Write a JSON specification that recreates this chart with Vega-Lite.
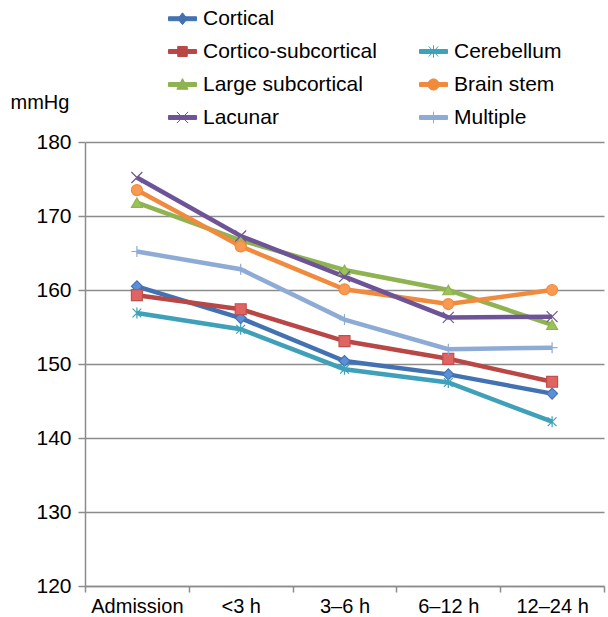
{
  "$schema": "https://vega.github.io/schema/vega-lite/v6.json",
  "autosize": {"type": "none"},
  "width": 519,
  "height": 444,
  "padding": {"left": 85, "top": 142, "right": 4, "bottom": 31},
  "background": "white",
  "config": {
    "view": {"stroke": null},
    "font": "Liberation Sans"
  },
  "data": {
    "values": [
      {"series": "Cortical", "time": "Admission", "value": 160.5},
      {"series": "Cortical", "time": "<3 h", "value": 156.2},
      {"series": "Cortical", "time": "3–6 h", "value": 150.4},
      {"series": "Cortical", "time": "6–12 h", "value": 148.6},
      {"series": "Cortical", "time": "12–24 h", "value": 146.0},
      {"series": "Cortico-subcortical", "time": "Admission", "value": 159.3},
      {"series": "Cortico-subcortical", "time": "<3 h", "value": 157.4},
      {"series": "Cortico-subcortical", "time": "3–6 h", "value": 153.1},
      {"series": "Cortico-subcortical", "time": "6–12 h", "value": 150.7},
      {"series": "Cortico-subcortical", "time": "12–24 h", "value": 147.6},
      {"series": "Cerebellum", "time": "Admission", "value": 156.9},
      {"series": "Cerebellum", "time": "<3 h", "value": 154.7},
      {"series": "Cerebellum", "time": "3–6 h", "value": 149.3},
      {"series": "Cerebellum", "time": "6–12 h", "value": 147.5},
      {"series": "Cerebellum", "time": "12–24 h", "value": 142.2},
      {"series": "Large subcortical", "time": "Admission", "value": 171.8},
      {"series": "Large subcortical", "time": "<3 h", "value": 166.7},
      {"series": "Large subcortical", "time": "3–6 h", "value": 162.7},
      {"series": "Large subcortical", "time": "6–12 h", "value": 160.0},
      {"series": "Large subcortical", "time": "12–24 h", "value": 155.3},
      {"series": "Brain stem", "time": "Admission", "value": 173.5},
      {"series": "Brain stem", "time": "<3 h", "value": 165.9},
      {"series": "Brain stem", "time": "3–6 h", "value": 160.1},
      {"series": "Brain stem", "time": "6–12 h", "value": 158.1},
      {"series": "Brain stem", "time": "12–24 h", "value": 160.0},
      {"series": "Lacunar", "time": "Admission", "value": 175.2},
      {"series": "Lacunar", "time": "<3 h", "value": 167.3},
      {"series": "Lacunar", "time": "3–6 h", "value": 161.8},
      {"series": "Lacunar", "time": "6–12 h", "value": 156.3},
      {"series": "Lacunar", "time": "12–24 h", "value": 156.4},
      {"series": "Multiple", "time": "Admission", "value": 165.2},
      {"series": "Multiple", "time": "<3 h", "value": 162.8},
      {"series": "Multiple", "time": "3–6 h", "value": 156.0},
      {"series": "Multiple", "time": "6–12 h", "value": 152.0},
      {"series": "Multiple", "time": "12–24 h", "value": 152.2}
    ]
  },
  "encoding": {
    "x": {
      "field": "time",
      "type": "nominal",
      "sort": ["Admission", "<3 h", "3–6 h", "6–12 h", "12–24 h"],
      "scale": {"paddingInner": 0, "paddingOuter": 0},
      "axis": {
        "title": null,
        "labelAngle": 0,
        "labelFontSize": 20,
        "labelColor": "#000000",
        "labelPadding": 4,
        "domainColor": "#8c8c8c",
        "domainWidth": 1.5,
        "tickColor": "#8c8c8c",
        "tickWidth": 1.5,
        "tickSize": 6,
        "tickBand": "extent",
        "grid": false
      }
    },
    "y": {
      "field": "value",
      "type": "quantitative",
      "scale": {"domain": [120, 180], "nice": false, "zero": false},
      "axis": {
        "title": "mmHg",
        "titleAngle": 0,
        "titleAlign": "left",
        "titleBaseline": "alphabetic",
        "titleX": -75,
        "titleY": -34,
        "titleFontSize": 20,
        "titleFontWeight": "normal",
        "titleColor": "#000000",
        "values": [120, 130, 140, 150, 160, 170, 180],
        "labelFontSize": 21,
        "labelColor": "#000000",
        "labelPadding": 7,
        "domainColor": "#8c8c8c",
        "domainWidth": 1.5,
        "tickColor": "#8c8c8c",
        "tickWidth": 1.5,
        "tickSize": 7,
        "grid": true,
        "gridColor": "#8c8c8c",
        "gridWidth": 1.5,
        "gridOpacity": 1
      }
    }
  },
  "layer": [
    {
      "mark": {"type": "line", "strokeWidth": 4.5},
      "encoding": {
        "color": {
          "field": "series",
          "type": "nominal",
          "scale": {
            "domain": ["Cortical", "Cortico-subcortical", "Large subcortical", "Lacunar", " ", "Cerebellum", "Brain stem", "Multiple"],
            "range": ["#4372B3", "#B84745", "#8FB350", "#6E5497", "transparent", "#3FA0B9", "#F08A3C", "#8EABD6"]
          },
          "legend": {
            "orient": "none",
            "legendX": 83,
            "legendY": -138,
            "title": null,
            "columns": 2,
            "columnPadding": 40,
            "rowPadding": 8,
            "padding": 0,
            "symbolSize": 784,
            "symbolStrokeWidth": 1,
            "labelFontSize": 21,
            "labelColor": "#000000",
            "labelOffset": 6,
            "labelLimit": 300,
            "encode": {
              "symbols": {
                "update": {
                  "shape": {"signal": "({'Cortical': 'M-1,-0.14H1V0.14H-1Z M0,-0.42L0.34,0L0,0.42L-0.34,0Z', ' ': 'M0,0', 'Cortico-subcortical': 'M-1,-0.14H1V0.14H-1Z M-0.34,-0.36H0.34V0.36H-0.34Z', 'Cerebellum': 'M-1,-0.14H1V0.14H-1Z M-0.34,-0.36L0.34,0.36M-0.34,0.36L0.34,-0.36M0,-0.44V0.44', 'Large subcortical': 'M-1,-0.14H1V0.14H-1Z M0,-0.42L0.4,0.34H-0.4Z', 'Brain stem': 'M-1,-0.14H1V0.14H-1Z M0.4,0A0.4,0.4,0,1,1,-0.4,0A0.4,0.4,0,1,1,0.4,0Z', 'Lacunar': 'M-1,-0.14H1V0.14H-1Z M-0.4,-0.4L0.4,0.4M-0.4,0.4L0.4,-0.4', 'Multiple': 'M-1,-0.14H1V0.14H-1Z M0,-0.42V0.42'})[datum.value]"},
                  "fill": {"scale": "color", "field": "value"},
                  "stroke": {"scale": "color", "field": "value"},
                  "strokeWidth": {"value": 1},
                  "opacity": {"value": 1}
                }
              }
            }
          }
        }
      }
    },
    {
      "mark": {"type": "point", "filled": true, "opacity": 1, "strokeWidth": 1.2, "size": 120},
      "encoding": {
        "shape": {
          "field": "series",
          "type": "nominal",
          "scale": {
            "domain": ["Cortical", "Cortico-subcortical", "Cerebellum", "Large subcortical", "Brain stem", "Lacunar", "Multiple"],
            "range": [
              "diamond",
              "square",
              "M-0.8,-0.8L0.8,0.8M-0.8,0.8L0.8,-0.8M0,-1V1",
              "triangle-up",
              "circle",
              "M-1,-1L1,1M-1,1L1,-1",
              "M-1,0H1M0,-1V1"
            ]
          },
          "legend": null
        },
        "fill": {
          "field": "series",
          "type": "nominal",
          "scale": {
            "domain": ["Cortical", "Cortico-subcortical", "Cerebellum", "Large subcortical", "Brain stem", "Lacunar", "Multiple"],
            "range": ["#5B8FD8", "#E06462", "#4BACC6", "#9BC458", "#F99A52", "#8064A2", "#95B3D7"]
          },
          "legend": null
        },
        "stroke": {
          "field": "series",
          "type": "nominal",
          "scale": {
            "domain": ["Cortical", "Cortico-subcortical", "Cerebellum", "Large subcortical", "Brain stem", "Lacunar", "Multiple"],
            "range": ["#4372B3", "#C0504D", "#3FA0B9", "#8FB350", "#F08A3C", "#6E5497", "#8EABD6"]
          },
          "legend": null
        }
      }
    }
  ]
}
